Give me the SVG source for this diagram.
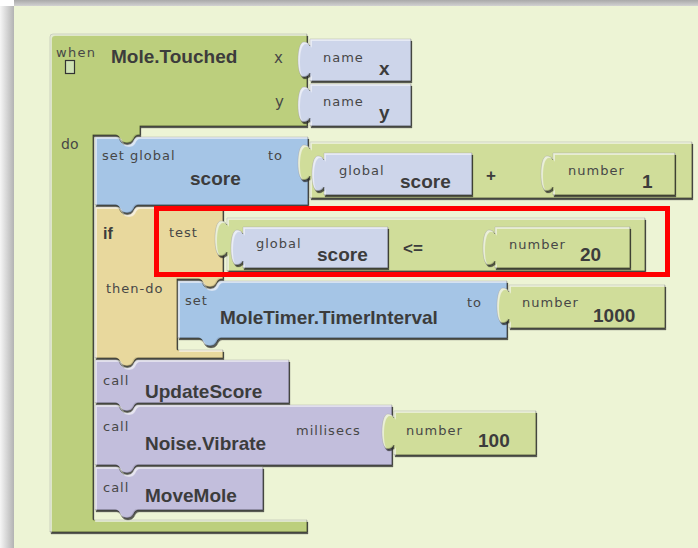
<svg xmlns="http://www.w3.org/2000/svg" width="698" height="548" viewBox="0 0 698 548">
  <defs>
    <linearGradient id="shadeLeft" x1="0" y1="0" x2="1" y2="0">
      <stop offset="0" stop-color="#f6f6f6"/>
      <stop offset="1" stop-color="#b3b3b3"/>
    </linearGradient>
    <linearGradient id="shadeTop" x1="0" y1="0" x2="0" y2="1">
      <stop offset="0" stop-color="#a9a9a9"/>
      <stop offset="1" stop-color="#d2d2d2"/>
    </linearGradient>
    <!-- raised block look: light rim top/left, dark rim bottom/right, small drop shadow -->
    <filter id="bevel" x="-0.05" y="-0.1" width="1.12" height="1.25">
      <feOffset in="SourceAlpha" dx="1.5" dy="1.5" result="sTL"/>
      <feComposite in="SourceAlpha" in2="sTL" operator="out" result="rimTL"/>
      <feFlood flood-color="#ffffff" flood-opacity="0.55"/>
      <feComposite in2="rimTL" operator="in" result="hi"/>
      <feOffset in="SourceAlpha" dx="-1.5" dy="-1.5" result="sBR"/>
      <feComposite in="SourceAlpha" in2="sBR" operator="out" result="rimBR"/>
      <feFlood flood-color="#000000" flood-opacity="0.3"/>
      <feComposite in2="rimBR" operator="in" result="lo"/>
      <feGaussianBlur in="SourceAlpha" stdDeviation="0.6"/>
      <feOffset dx="1" dy="1.5" result="blur"/>
      <feFlood flood-color="#2a2a2a" flood-opacity="0.75"/>
      <feComposite in2="blur" operator="in" result="drop"/>
      <feMerge>
        <feMergeNode in="drop"/>
        <feMergeNode in="SourceGraphic"/>
        <feMergeNode in="hi"/>
        <feMergeNode in="lo"/>
      </feMerge>
    </filter>
  </defs>
  <style>
    .blk { filter: url(#bevel); stroke: rgba(0,0,0,0.34); stroke-width: 0.9; stroke-linejoin: round; }
    .evt { fill: #bccf7d; }
    .val { fill: #d0dd9a; }
    .blue { fill: #a5c5e6; }
    .lav { fill: #cdd5ea; }
    .tan { fill: #e8d89d; }
    .pur { fill: #c2bedc; }
    .lbl { font-family: "DejaVu Sans", sans-serif; font-size: 13px; letter-spacing: 1px; fill: #474747; }
    .big { font-family: "Liberation Sans", Arial, sans-serif; font-weight: bold; font-size: 19px; fill: #3c3c3c; }
    .op { font-family: "Liberation Sans", Arial, sans-serif; font-weight: bold; font-size: 17px; fill: #3c3c3c; }
    .arg { font-family: "DejaVu Sans", sans-serif; font-size: 15px; fill: #474747; }
  </style>

  <!-- workspace panel -->
  <rect width="698" height="548" fill="#ffffff"/>
  <rect x="0" y="6" width="14" height="542" fill="url(#shadeLeft)"/>
  <rect x="14" y="0" width="684" height="6" fill="url(#shadeTop)"/>
  <rect x="14" y="6" width="684" height="542" fill="#edf4d5"/>

  <!-- event block: when Mole.Touched -->
  <g id="when-mole-touched">
    <path class="blk evt" d="M50,37 Q50,34 53,34 H307 V126 H140 V135 H138 Q135,135 133,140 Q131,143 127,143 Q123,143 121,140 Q119,135 116,135 H93 V520 H307 V532 H50 Z"/>
    <text class="lbl" x="56" y="57" style="letter-spacing:1.3px">when</text>
    <rect x="65.5" y="60.5" width="9" height="13" fill="#cfe2b4" stroke="#333" stroke-width="1.2"/>
    <text class="big" x="111" y="63">Mole.Touched</text>
    <text class="arg" x="274" y="63">x</text>
    <text class="arg" x="275" y="107">y</text>
    <text class="arg" x="61" y="149" style="font-size:14px">do</text>
  </g>

  <g id="name-x">
    <path class="blk lav" d="M310,39 H411 V81 H310 V73 C309,75 307,77 304,77 C300,77 298,70 298,60 C298,50 300,42 304,42 C307,42 309,44 310,46 Z"/>
    <text class="lbl" x="323" y="62">name</text>
    <text class="big" x="379" y="75">x</text>
  </g>

  <g id="name-y">
    <path class="blk lav" d="M310,84 H411 V126 H310 V118 C309,120 307,122 304,122 C300,122 298,115 298,105 C298,95 300,87 304,87 C307,87 309,89 310,91 Z"/>
    <text class="lbl" x="323" y="106">name</text>
    <text class="big" x="379" y="119">y</text>
  </g>

  <!-- set global score to (score + 1) -->
  <g id="set-global-score">
    <path class="blk blue" d="M95,137 H116 Q119,137 121,142 Q123,145 127,145 Q131,145 133,142 Q135,137 138,137 H308 V205 H138 Q135,205 133,210 Q131,213 127,213 Q123,213 121,210 Q119,205 116,205 H95 Z"/>
    <text class="lbl" x="102" y="160">set global</text>
    <text class="big" x="190" y="185">score</text>
    <text class="lbl" x="268" y="160">to</text>
  </g>

  <g id="plus">
    <path class="blk val" d="M310,142 H692 V198 H310 V176 C309,178 307,180 304,180 C300,180 298,173 298,163 C298,153 300,145 304,145 C307,145 309,147 310,149 Z"/>
    <text class="op" x="486" y="181">+</text>
  </g>

  <g id="plus-global-score">
    <path class="blk lav" d="M324,153 H472 V195 H324 V187 C323,189 321,191 318,191 C314,191 312,184 312,174 C312,164 314,156 318,156 C321,156 323,158 324,160 Z"/>
    <text class="lbl" x="339" y="175">global</text>
    <text class="big" x="400" y="188">score</text>
  </g>

  <g id="number-1">
    <path class="blk val" d="M553,153 H675 V195 H553 V187 C552,189 550,191 547,191 C543,191 541,184 541,174 C541,164 543,156 547,156 C550,156 552,158 553,160 Z"/>
    <text class="lbl" x="568" y="175">number</text>
    <text class="big" x="642" y="188">1</text>
  </g>

  <!-- if / then-do -->
  <g id="if">
    <path class="blk tan" d="M95,207 H116 Q119,207 121,212 Q123,215 127,215 Q131,215 133,212 Q135,207 138,207 H223 V279 H221 Q218,279 216,284 Q214,287 210,287 Q206,287 204,284 Q202,279 199,279 H177 V350 H223 V358 H138 Q135,358 133,363 Q131,366 127,366 Q123,366 121,363 Q119,358 116,358 H95 Z"/>
    <text class="big" x="103" y="239" style="font-size:16px">if</text>
    <text class="lbl" x="169" y="237">test</text>
    <text class="lbl" x="106" y="293">then-do</text>
  </g>

  <g id="less-equal">
    <path class="blk val" d="M227,218 H645 V271 H227 V252 C226,254 224,256 221,256 C217,256 215,249 215,239 C215,229 217,221 221,221 C224,221 226,223 227,225 Z"/>
    <text class="op" x="403" y="254">&lt;=</text>
  </g>

  <g id="test-global-score">
    <path class="blk lav" d="M243,227 H388 V268 H243 V261 C242,263 240,265 237,265 C233,265 231,258 231,248 C231,238 233,230 237,230 C240,230 242,232 243,234 Z"/>
    <text class="lbl" x="256" y="248">global</text>
    <text class="big" x="317" y="261">score</text>
  </g>

  <g id="number-20">
    <path class="blk val" d="M495,227 H630 V268 H495 V261 C494,263 492,265 489,265 C485,265 483,258 483,248 C483,238 485,230 489,230 C492,230 494,232 495,234 Z"/>
    <text class="lbl" x="509" y="249">number</text>
    <text class="big" x="580" y="261">20</text>
  </g>

  <g id="set-timer-interval">
    <path class="blk blue" d="M178,281 H199 Q202,281 204,286 Q206,289 210,289 Q214,289 216,286 Q218,281 221,281 H507 V338 H221 Q218,338 216,343 Q214,346 210,346 Q206,346 204,343 Q202,338 199,338 H178 Z"/>
    <text class="lbl" x="185" y="305">set</text>
    <text class="big" x="220" y="324">MoleTimer.TimerInterval</text>
    <text class="lbl" x="467" y="307">to</text>
  </g>

  <g id="number-1000">
    <path class="blk val" d="M509,285 H665 V328 H509 V319 C508,321 506,323 503,323 C499,323 497,316 497,306 C497,296 499,288 503,288 C506,288 508,290 509,292 Z"/>
    <text class="lbl" x="522" y="307">number</text>
    <text class="big" x="593" y="322">1000</text>
  </g>

  <g id="call-update-score">
    <path class="blk pur" d="M95,360 H116 Q119,360 121,365 Q123,368 127,368 Q131,368 133,365 Q135,360 138,360 H289 V403 H138 Q135,403 133,408 Q131,411 127,411 Q123,411 121,408 Q119,403 116,403 H95 Z"/>
    <text class="lbl" x="103" y="385">call</text>
    <text class="big" x="145" y="398">UpdateScore</text>
  </g>

  <g id="call-noise-vibrate">
    <path class="blk pur" d="M95,405 H116 Q119,405 121,410 Q123,413 127,413 Q131,413 133,410 Q135,405 138,405 H392 V465 H138 Q135,465 133,470 Q131,473 127,473 Q123,473 121,470 Q119,465 116,465 H95 Z"/>
    <text class="lbl" x="103" y="431">call</text>
    <text class="big" x="145" y="450">Noise.Vibrate</text>
    <text class="lbl" x="296" y="435">millisecs</text>
  </g>

  <g id="number-100">
    <path class="blk val" d="M394,411 H536 V455 H394 V445 C393,447 391,449 388,449 C384,449 382,442 382,432 C382,422 384,414 388,414 C391,414 393,416 394,418 Z"/>
    <text class="lbl" x="406" y="435">number</text>
    <text class="big" x="478" y="447">100</text>
  </g>

  <g id="call-move-mole">
    <path class="blk pur" d="M95,467 H116 Q119,467 121,472 Q123,475 127,475 Q131,475 133,472 Q135,467 138,467 H263 V510 H138 Q135,510 133,515 Q131,518 127,518 Q123,518 121,515 Q119,510 116,510 H95 Z"/>
    <text class="lbl" x="103" y="492">call</text>
    <text class="big" x="145" y="502">MoveMole</text>
  </g>

  <!-- red frame around the test condition -->
  <g id="highlight">
    <rect x="156.5" y="208.5" width="511" height="66" fill="none" stroke="#ff0000" stroke-width="5"/>
  </g>
</svg>
